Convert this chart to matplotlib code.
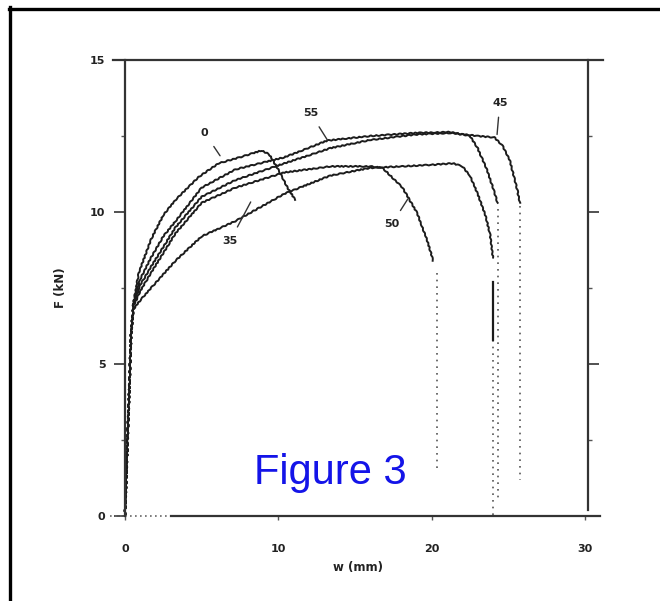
# Scanned load-displacement chart, F (kN) vs w (mm)
import matplotlib.pyplot as plt
from matplotlib.lines import Line2D

# curve data (w in mm, F in kN)
w_0 = [0, 0.2, 0.4, 0.55, 0.9, 1.7, 2.5, 3.3, 4.8, 6.1, 7.5, 8.9, 9.4, 10.0, 10.6, 11.1]
F_0 = [0, 3.0, 6.0, 7.0, 8.0, 9.1, 9.9, 10.4, 11.15, 11.6, 11.8, 12.02, 11.9, 11.4, 10.8, 10.4]

w_55 = [0, 0.2, 0.4, 0.55, 1.0, 1.7, 2.5, 3.3, 5.0, 7.2, 10.4, 13.2, 16.0, 19.0, 21.2, 22.5, 23.0, 23.6, 24.0, 24.3]
F_55 = [0, 3.0, 6.0, 7.0, 7.8, 8.5, 9.2, 9.7, 10.8, 11.4, 11.8, 12.35, 12.5, 12.6, 12.63, 12.5, 12.1, 11.4, 10.8, 10.3]

w_45 = [0, 0.2, 0.4, 0.55, 1.0, 1.7, 3.3, 5.0, 7.2, 10.4, 13.4, 16.0, 19.0, 21.2, 23.0, 24.1, 24.6, 25.1, 25.6, 25.75]
F_45 = [0, 3.0, 6.0, 6.95, 7.6, 8.2, 9.5, 10.5, 11.05, 11.6, 12.1, 12.37, 12.55, 12.6, 12.5, 12.45, 12.2, 11.7, 10.7, 10.3]

w_50 = [0, 0.2, 0.4, 0.55, 1.0, 1.7, 3.3, 5.0, 7.2, 10.4, 13.4, 16.0, 16.8, 18.1, 19.05, 19.7, 20.1]
F_50 = [0, 3.0, 6.0, 6.9, 7.4, 8.0, 9.3, 10.3, 10.8, 11.3, 11.5, 11.5, 11.45, 10.8, 9.97, 9.08, 8.4]

w_35 = [0, 0.2, 0.4, 0.55, 1.0, 1.7, 3.3, 5.0, 7.2, 10.4, 13.4, 16.0, 18.0, 20.0, 21.4, 22.0, 22.5, 23.0, 23.5, 23.8, 24.0]
F_35 = [0, 3.0, 6.0, 6.8, 7.1, 7.5, 8.4, 9.2, 9.7, 10.6, 11.2, 11.45, 11.5, 11.55, 11.6, 11.5, 11.2, 10.6, 9.9, 9.3, 8.5]

# broken-off tails after failure: w, top F, bottom F
tail_w = [24.35, 25.75, 20.35, 24.0]
tail_top = [10.1, 10.2, 8.0, 5.8]
tail_bot = [0.6, 1.2, 1.5, 0.0]
# solid part of the 35 tail
solid_w = [24.0, 24.0]
solid_F = [7.7, 5.8]

# curve labels: text, label position, leader end
lab_text = ["0", "55", "45", "35", "50"]
lab_xy = [(5.2, 12.6), (12.1, 13.25), (24.45, 13.6), (6.85, 9.05), (17.4, 9.6)]
lab_end = [(6.2, 11.85), (13.2, 12.37), (24.27, 12.55), (8.2, 10.33), (18.45, 10.43)]

fig = plt.figure(figsize=(6.6, 6.01), dpi=100)
ax = fig.add_axes([0.1708, 0.1414, 0.7433, 0.7588])

ink = "#1c1c1c"
for w, F in [(w_0, F_0), (w_55, F_55), (w_45, F_45), (w_50, F_50), (w_35, F_35)]:
    ln, = ax.plot(w, F, color=ink, lw=1.4)
    ln.set_sketch_params(0.5, 6, 2)

for w, a, b in zip(tail_w, tail_top, tail_bot):
    ax.plot([w, w], [a, b], color="#555555", lw=1.2, ls=(0, (1, 3)))
ax.plot(solid_w, solid_F, color=ink, lw=1.6)

for t, xy, end in zip(lab_text, lab_xy, lab_end):
    ax.annotate(t, xy=end, xytext=xy, ha="center", va="center",
                fontsize=8, fontweight="bold", color="#222222",
                arrowprops=dict(arrowstyle="-", color="#333333", lw=1.0,
                                shrinkA=5, shrinkB=0))

ax.set_xlim(-0.8, 31.2)
ax.set_ylim(0, 15)

# spines like the scanned frame
ax.spines["left"].set_position(("data", 0))
ax.spines["left"].set_bounds(0, 15)
ax.spines["right"].set_position(("data", 30.2))
ax.spines["right"].set_bounds(0.2, 15)
ax.spines["bottom"].set_bounds(3, 31.0)
for s in ax.spines.values():
    s.set_color("#333333")
    s.set_linewidth(1.6)
ax.plot([-1.0, 3], [0, 0], color="#666666", lw=1.2, ls=(0, (1, 2)), clip_on=False)

ax.set_xticks([0, 10, 20, 30])
ax.set_yticks([0, 5, 10, 15])
ax.set_yticks([2.5, 7.5, 12.5], minor=True)
ax.tick_params(axis="y", which="major", direction="out", length=8, width=1.2,
               pad=6, right=True, color="#333333")
ax.tick_params(axis="y", which="minor", direction="out", length=3, width=1.0,
               right=True, color="#555555")
ax.tick_params(axis="x", which="major", direction="out", length=3, width=1.0,
               pad=17, color="#555555")
for lab in ax.get_xticklabels() + ax.get_yticklabels():
    lab.set_fontsize(8)
    lab.set_fontweight("bold")
    lab.set_color("#222222")

ax.set_xlabel("w (mm)", fontsize=8.5, fontweight="bold", color="#222222", labelpad=5)
ax.set_ylabel("F (kN)", fontsize=8.5, fontweight="bold", color="#222222", labelpad=17)

fig.text(0.5, 0.1947, "Figure 3", color="#1414e8", fontsize=30,
         family="Liberation Sans", ha="center", va="baseline")

# outer frame: top and left edges
fig.add_artist(Line2D([9 / 660, 1.0], [1 - 8.5 / 601, 1 - 8.5 / 601],
                      color="black", lw=2.4, transform=fig.transFigure))
fig.add_artist(Line2D([10.5 / 660, 10.5 / 660], [0, 1 - 7 / 601],
                      color="black", lw=2.4, transform=fig.transFigure))

fig.savefig("out.png", dpi=100)
